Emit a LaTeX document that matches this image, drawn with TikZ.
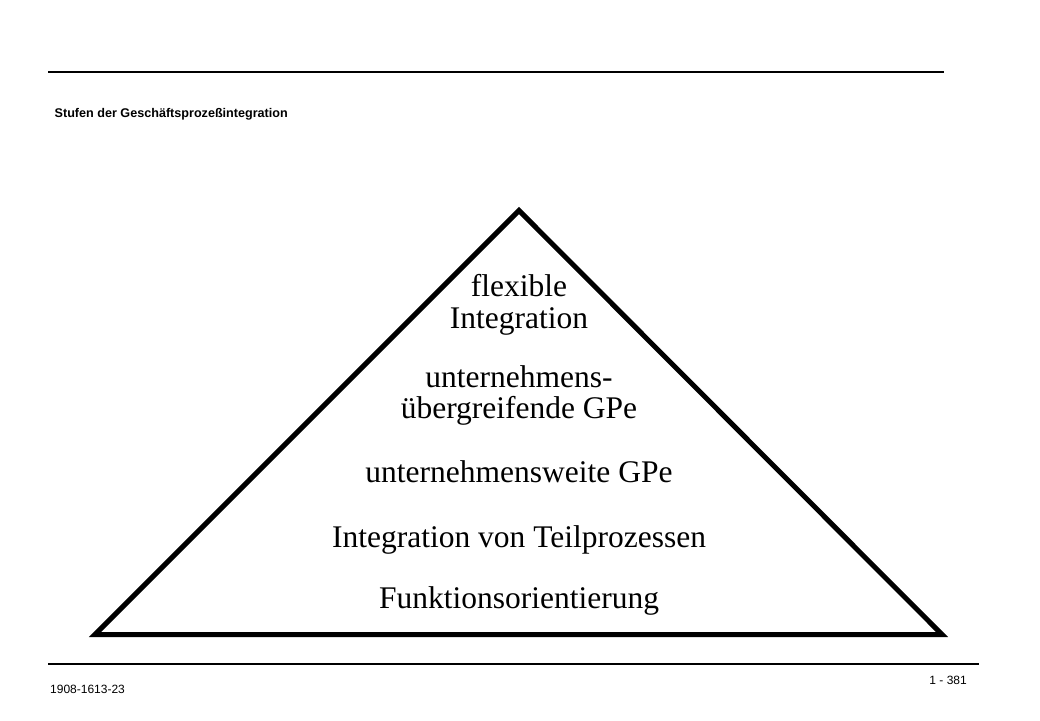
\documentclass[tikz,border=0pt]{standalone}
\usepackage{fontspec}
\setmainfont{Liberation Serif}
\newfontfamily\arialfont{Liberation Sans}
\begin{document}
\begin{tikzpicture}[x=1pt,y=-1pt,
  rule/.style={line width=1.2pt,black},
  tri/.style={line width=5pt,black,line join=miter},
  level/.style={anchor=base,inner sep=0pt,font=\fontsize{31.5}{38}\selectfont},
  title/.style={anchor=base west,inner sep=0pt,font=\arialfont\bfseries\fontsize{12.6}{15}\selectfont},
  foot/.style={inner sep=0pt,font=\arialfont\fontsize{12}{14}\selectfont}]
\useasboundingbox[fill=white] (0,0) rectangle (1040,720);
% header and footer rules
\coordinate (tl) at (48,72);
\coordinate (tr) at (944,72);
\coordinate (bl) at (48,664);
\coordinate (br) at (979,664);
\draw[rule] (tl) -- (tr);
\draw[rule] (bl) -- (br);
\node[title] (title) at (54.5,117.5) {Stufen der Geschäftsprozeßintegration};
\node[foot,anchor=base west] (code) at (50,693) {1908-1613-23};
\node[foot,anchor=base east] (page) at (967,684) {1 - 381};
% triangle
\coordinate (apex) at (519,210.5);
\coordinate (left) at (95,634.5);
\coordinate (right) at (942,634.5);
\draw[tri] (apex) -- (left) -- (right) -- cycle;
% levels
\node[level] (l1a) at (519,296) {flexible};
\node[level] (l1b) at (519,328) {Integration};
\node[level] (l2a) at (519,387) {unternehmens-};
\node[level] (l2b) at (519,418) {übergreifende GPe};
\node[level] (l3) at (519,482) {unternehmensweite GPe};
\node[level] (l4) at (519,547) {Integration von Teilprozessen};
\node[level] (l5) at (519,608) {Funktionsorientierung};
\end{tikzpicture}
\end{document}
